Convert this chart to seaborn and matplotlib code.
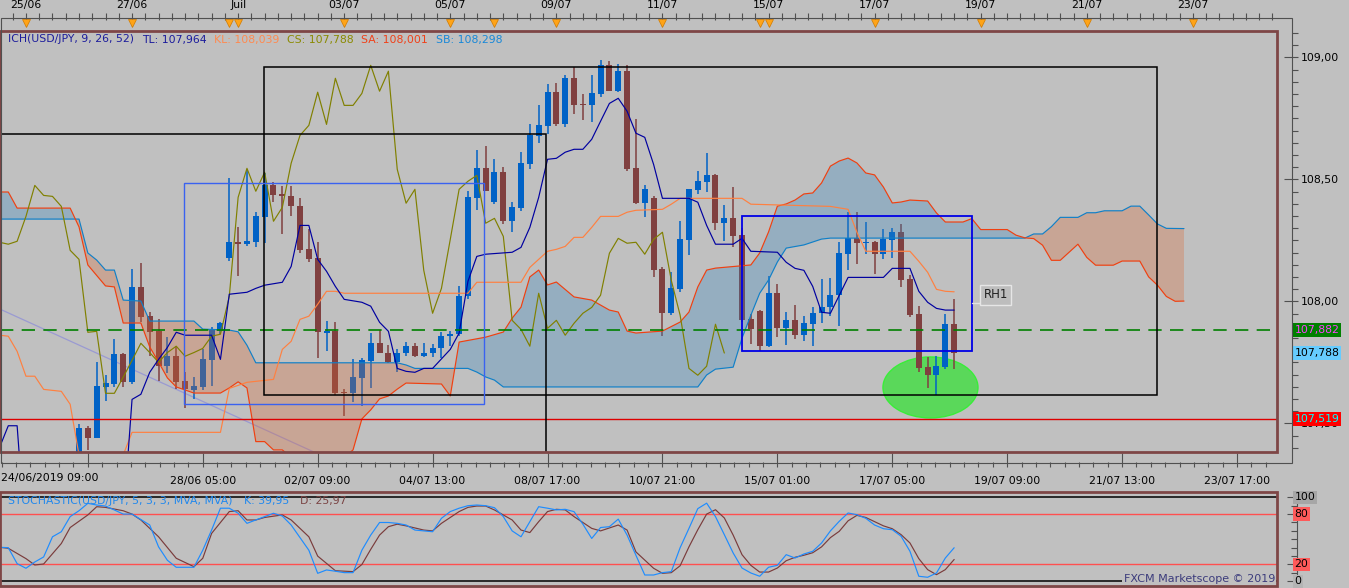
import numpy as np
import matplotlib
matplotlib.use("Agg")
import matplotlib.pyplot as plt
import matplotlib.transforms as mtrans
from matplotlib.patches import Rectangle, Ellipse
from matplotlib.ticker import MultipleLocator
import seaborn as sns

# ---------------- candles (bar index 0..99, 4h bars) ----------------
OPEN = [107.34,107.48,107.44,107.648,107.66,107.783,107.668,108.057,107.939,107.877,
        107.734,107.775,107.672,107.635,107.648,107.758,107.877,108.176,108.242,108.234,
        108.242,108.344,108.475,108.439,108.43,108.389,108.213,108.176,107.869,107.877,
        107.627,107.623,107.684,107.754,107.828,107.79,107.75,107.79,107.816,107.775,
        107.79,107.807,107.857,107.865,108.02,108.422,108.545,108.406,108.529,108.328,
        108.381,108.561,108.676,108.717,108.857,108.725,108.914,108.807,108.803,108.848,
        108.967,108.861,108.943,108.545,108.402,108.422,108.131,107.951,108.049,108.25,
        108.455,108.488,108.516,108.32,108.34,108.27,107.926,107.959,107.816,108.033,
        107.889,107.922,107.861,107.906,107.951,107.975,108.025,108.193,108.258,108.238,
        108.242,108.193,108.25,108.283,108.09,107.947,107.73,107.697,107.73,107.906]
HIGH = [107.496,107.49,107.75,107.697,107.844,107.79,108.131,108.156,107.955,107.926,
        107.852,107.816,107.709,107.689,107.803,107.893,107.914,108.504,108.303,108.541,
        108.365,108.525,108.488,108.471,108.471,108.422,108.295,108.242,107.918,107.914,
        107.639,107.762,107.766,107.869,107.881,107.82,107.803,107.832,107.828,107.828,
        107.824,107.873,107.877,108.061,108.451,108.619,108.635,108.582,108.549,108.406,
        108.611,108.725,108.803,108.889,108.893,108.926,108.959,108.848,108.926,108.988,
        108.984,108.971,108.967,108.746,108.475,108.43,108.139,108.119,108.328,108.459,
        108.533,108.607,108.52,108.393,108.467,108.299,107.947,107.963,108.102,108.07,
        107.955,107.984,107.939,107.975,108.09,108.094,108.242,108.365,108.365,108.324,
        108.246,108.295,108.299,108.316,108.107,107.98,107.77,107.775,107.947,108.008]
LOW = [107.31,107.39,107.44,107.59,107.648,107.648,107.66,107.914,107.775,107.672,
       107.705,107.639,107.561,107.598,107.635,107.652,107.865,108.164,108.102,108.225,
       108.221,108.238,108.406,108.275,108.348,108.197,108.16,107.766,107.795,107.615,
       107.529,107.586,107.57,107.643,107.787,107.746,107.709,107.775,107.77,107.77,
       107.77,107.766,107.816,107.857,108.01,108.373,108.451,108.398,108.316,108.283,
       108.369,108.541,108.648,108.684,108.717,108.713,108.766,108.742,108.734,108.836,
       108.861,108.857,108.533,108.398,108.344,108.098,107.857,107.943,108.037,108.189,
       108.439,108.447,108.291,108.246,108.221,107.914,107.824,107.795,107.811,107.852,
       107.82,107.844,107.836,107.816,107.91,107.939,107.898,108.127,108.152,108.193,
       108.111,108.172,108.176,108.057,107.934,107.709,107.643,107.615,107.721,107.721]
CLOSE = [107.48,107.44,107.652,107.664,107.783,107.668,108.057,107.934,107.873,107.734,
         107.775,107.668,107.639,107.652,107.762,107.881,107.91,108.242,108.234,108.246,
         108.348,108.475,108.434,108.43,108.389,108.209,108.172,107.873,107.877,107.623,
         107.623,107.689,107.758,107.828,107.79,107.75,107.79,107.816,107.775,107.79,
         107.807,107.857,107.865,108.02,108.426,108.545,108.451,108.529,108.328,108.385,
         108.566,108.68,108.721,108.857,108.725,108.914,108.803,108.803,108.852,108.967,
         108.861,108.943,108.541,108.402,108.459,108.127,107.951,108.053,108.254,108.459,
         108.492,108.516,108.32,108.34,108.266,107.922,107.885,107.816,108.033,107.889,
         107.922,107.861,107.91,107.951,107.975,108.025,108.197,108.258,108.238,108.242,
         108.193,108.254,108.283,108.086,107.943,107.725,107.697,107.734,107.906,107.788]
CHIKOU_SHIFT = 26

# ---------------- Ichimoku lines (bar index, price) ----------------
TL_IDX = [-9,-8,-7,-6,5,6,7,8,9,10,11,12,15,16,17,18,19,20,21,23,24,25,26,27,28,29,30,
          32,33,34,35,36,37,38,39,40,42,43,44,45,46,49,50,51,52,53,54,55,56,57,58,59,60,
          61,62,63,64,65,66,69,70,71,72,74,75,76,79,80,81,82,83,84,85,87,91,92,94,95,96,
          97,98,99]
TL_VAL = [107.40,107.49,107.49,107.0,107.10,107.598,107.619,107.709,107.762,107.811,107.873,
          107.861,107.861,107.762,108.029,108.033,108.037,108.053,108.066,108.078,108.143,
          108.311,108.311,108.172,108.123,108.061,108.008,107.996,107.98,107.914,107.877,
          107.725,107.713,107.709,107.725,107.725,107.803,107.87,108.082,108.184,108.193,
          108.201,108.221,108.303,108.426,108.582,108.586,108.611,108.623,108.623,108.664,
          108.738,108.811,108.832,108.779,108.689,108.672,108.561,108.422,108.422,108.406,
          108.311,108.234,108.234,108.258,108.205,108.201,108.16,108.135,108.127,108.061,
          107.955,107.951,108.098,108.098,108.135,108.135,108.041,107.996,107.971,107.964,
          107.964]
KL_IDX = [-9,-8,-7,-6,-5,-4,-2,-1,0,5,6,16,17,19,21,22,23,24,25,26,27,28,29,30,44,45,50,
          51,52,53,54,55,56,57,58,59,61,62,63,66,67,68,75,76,85,87,88,89,94,95,96,97,98,99]
KL_VAL = [107.861,107.857,107.795,107.693,107.693,107.639,107.631,107.578,107.37,107.37,
          107.463,107.463,107.643,107.668,107.676,107.68,107.803,107.836,107.926,107.939,
          107.988,108.041,108.041,108.033,108.033,108.078,108.078,108.139,108.172,108.205,
          108.213,108.225,108.262,108.262,108.303,108.348,108.348,108.365,108.373,108.377,
          108.398,108.422,108.422,108.398,108.389,108.377,108.283,108.205,108.205,108.164,
          108.119,108.049,108.041,108.039]
SA_IDX = [-9,-8,-7,-1,0,1,3,4,5,7,8,9,10,11,13,16,17,18,19,20,21,22,23,24,30,31,32,33,34,
          35,36,37,41,42,43,46,48,49,50,51,52,53,54,56,58,60,61,62,63,66,68,69,70,71,72,76,
          77,78,79,80,81,82,83,84,85,86,87,88,89,90,91,92,93,94,96,97,98,100,101,102,105,
          106,107,108,109,110,111,113,114,115,117,118,120,121,122,123,124,125]
SA_VAL = [108.448,108.448,108.382,108.382,108.305,108.149,108.063,108.059,107.911,107.911,
          107.813,107.751,107.686,107.649,107.624,107.624,107.645,107.670,107.645,107.425,
          107.425,107.391,107.391,107.36,107.36,107.391,107.518,107.555,107.60,107.612,
          107.64,107.665,107.661,107.612,107.833,107.853,107.874,107.931,107.976,108.10,
          108.128,108.067,108.079,108.018,108.005,107.964,107.956,107.878,107.870,107.878,
          107.915,107.956,108.059,108.128,108.136,108.149,108.198,108.284,108.39,108.399,
          108.415,108.44,108.444,108.485,108.554,108.575,108.587,108.567,108.526,108.518,
          108.468,108.403,108.407,108.415,108.411,108.362,108.325,108.325,108.339,108.294,
          108.294,108.271,108.26,108.257,108.23,108.168,108.168,108.234,108.18,108.148,
          108.148,108.165,108.165,108.10,108.066,108.02,108.0,108.001]
SB_IDX = [-9,0,1,2,3,4,5,7,8,13,14,17,18,19,20,36,37,38,44,45,46,47,48,70,71,72,74,75,76,
          77,78,79,80,82,83,84,85,107,108,109,110,111,113,114,115,116,118,119,120,121,122,
          123,125]
SB_VAL = [108.337,108.337,108.198,108.169,108.128,108.128,108.005,108.001,107.919,107.919,
          107.886,107.882,107.875,107.82,107.748,107.748,107.739,107.725,107.725,107.71,
          107.69,107.677,107.649,107.649,107.698,107.722,107.73,107.849,107.943,108.033,
          108.087,108.161,108.218,108.231,108.243,108.255,108.259,108.259,108.276,108.276,
          108.306,108.344,108.344,108.363,108.363,108.371,108.371,108.39,108.39,108.354,
          108.317,108.299,108.298]

# ---------------- Stochastic (bar index, value) ----------------
STOCH_K = [(-9,40.5),(-8,40),(-7,21),(-6,15.5),(-5,23),(-4,29),(-3,53),(-2,59),(-1,77),(0,84),
           (1,92.8),(2,90.8),(3,89.6),(4,84.9),(5,80),(6,80),(8,67),(9,41),(10,25),(11,16.7),
           (13,16.7),(14,37),(15,61),(16,87),(17,87),(18,81),(19,69),(20,73),(21,77),(22,81),
           (23,77.7),(24,67),(25,52),(26,37),(27,9.5),(28,13.5),(29,12),(30,10.3),(31,10.3),
           (32,37),(33,55),(34,70),(35,70),(36,69),(37,67),(38,61),(39,60),(40,59),(41,75),
           (42,83),(43,87),(44,90),(45,90.8),(46,90),(47,87.6),(48,77),(49,60),(50,53),(51,71),
           (52,88.8),(53,87),(54,85),(55,85.7),(56,82.9),(57,68),(58,51),(59,64),(60,65),
           (61,74),(62,55),(63,31),(64,7.5),(65,7.5),(66,10.3),(67,11.5),(68,40),(69,63),
           (70,86.5),(71,93),(72,77),(73,55.5),(74,33.7),(75,15.8),(76,9.9),(77,6),(78,16.7),
           (79,19),(80,31.7),(81,27.7),(82,32.5),(83,35.7),(84,45.6),(85,60),(86,71.4),
           (87,81.3),(88,79.3),(89,75),(90,67),(91,62.6),(92,61.4),(93,53.6),(94,35.7),(95,6),
           (96,4.8),(97,9.9),(98,27.7),(99,39.95)]
STOCH_D = [(-9,40.5),(-8,39.3),(-6,27),(-5,19.4),(-4,20.6),(-2,45),(-1,64),(1,79),(2,88.8),
           (3,88),(5,84),(6,80),(7,73),(9,53),(11,27.4),(13,17.4),(14,27.4),(15,57),(17,83),
           (18,84),(19,73),(20,73),(21,76),(23,79),(24,73),(26,53),(27,30),(29,12.6),(31,11.5),
           (32,20),(33,38),(34,55),(35,65),(36,68),(37,66),(39,61),(40,60),(41,69),(43,83),
           (44,88),(45,89.6),(46,89.6),(47,84.9),(49,73),(50,61),(51,58),(52,71),(53,83),
           (54,85.7),(55,85),(56,77),(58,63),(59,60),(61,67),(62,61),(63,35),(65,15.5),(66,9.5),
           (67,10.3),(68,18.5),(69,41),(70,61.4),(71,80),(72,85.2),(73,75.4),(74,55),(75,31.7),
           (76,19),(77,11),(78,11),(79,15.8),(80,24.5),(81,28.6),(82,31),(83,34),(84,41),
           (85,52),(86,59.5),(87,72),(88,78.5),(89,76),(90,71),(91,66),(92,62.6),(93,55.5),
           (94,45.6),(95,27),(96,13.9),(97,7.9),(98,13.9),(99,25.97)]

# ---------------- axis labels ----------------
TOP_TICKS = [-6, 6, 18, 30, 42, 54, 66, 78, 90, 102, 114, 126]
TOP_LABELS = ["25/06", "27/06", "Juil", "03/07", "05/07", "09/07", "11/07",
              "15/07", "17/07", "19/07", "21/07", "23/07"]
WEEK_MARKS = [17, 47, 77]
BOTTOM_TICKS = [1, 14, 27, 40, 53, 66, 79, 92, 105, 118, 131]
BOTTOM_LABELS = ["", "28/06 05:00", "02/07 09:00", "04/07 13:00", "08/07 17:00",
                 "10/07 21:00", "15/07 01:00", "17/07 05:00", "19/07 09:00",
                 "21/07 13:00", "23/07 17:00"]
FIRST_LABEL = "24/06/2019 09:00"
PRICE_TICKS = [107.5, 108.0, 108.5, 109.0]
PRICE_LABELS = ["107,50", "108,00", "108,50", "109,00"]
PRICE_TAGS = [(107.882, "107,882", "#008000", "#ff40ff"),
              (107.788, "107,788", "#66ccff", "#000000"),
              (107.519, "107,519", "#ff0000", "#00ffff")]
STOCH_TAGS = [(100, "100", "#a6a6a6"), (80, "80", "#ff5a5a"),
              (20, "20", "#ff5a5a"), (0, "0", "#b4b4b4")]
HEADER = [("ICH(USD/JPY, 9, 26, 52)", "#1c1c9c"), ("TL: 107,964", "#1c1c9c"),
          ("KL: 108,039", "#ff8a50"), ("CS: 107,788", "#8a8a00"),
          ("SA: 108,001", "#f04018"), ("SB: 108,298", "#1888d8")]
STOCH_HEADER = [("STOCHASTIC(USD/JPY, 5, 3, 3, MVA, MVA)", "#2088ee"),
                ("K: 39,95", "#2088ee"), ("D: 25,97", "#7a4444")]
LEVEL_GREEN = 107.882
LEVEL_RED = 107.519

# ---------------- drawing annotations ----------------
BOXES = [((-20, 52.83, 106.5, 108.685), "#000000", 1.1),
         ((20.96, 121.9, 107.616, 108.959), "#000000", 1.1),
         ((11.9, 45.85, 107.578, 108.484), "#3a62f0", 1.0),
         ((75.03, 100.98, 107.796, 108.348), "#0000e6", 1.3)]
ELLIPSE = (96.32, 107.647, 10.75, 0.25)
TREND_X = [-9, 40]
TREND_Y = [107.969, 107.161]
RH1 = (103.7, 108.026)
RH1_LINK = ([100.98, 102.0], [107.993, 107.993])

# ---------------- style ----------------
BG = "#c0c0c0"
UPC = "#0062c6"
DNC = "#804040"
BORDER = "#7e4646"
AXC = "#505050"
FS = 7.8
LW = 0.85

sns.set_theme(style="white", rc={"axes.facecolor": BG, "figure.facecolor": BG})
plt.rcParams["font.family"] = ["DejaVu Sans"]

W, H = 1349, 588
fig = plt.figure(figsize=(W / 100, H / 100), dpi=100)
fig.patch.set_facecolor(BG)


def fx(p):
    return p / W


def fy(p):
    return 1 - p / H


XL = (-8.937, 135.52)
YL = (107.3824, 109.1078)

ax = fig.add_axes([0, fy(452), fx(1277), (452 - 31) / H])
ax.set_facecolor(BG)


def sline(a, x, y, color, lw=LW, z=6):
    sns.lineplot(x=np.asarray(x, float), y=np.asarray(y, float), ax=a, color=color,
                 lw=lw, estimator=None, sort=False, zorder=z, legend=False)


# candles
idx = np.arange(len(OPEN))
o, h, l, c = (np.array(v, float) for v in (OPEN, HIGH, LOW, CLOSE))
col = np.where(c >= o, UPC, DNC)
ax.vlines(idx, l, h, colors=col, lw=1.1, zorder=3)
ax.bar(idx, np.maximum(np.abs(c - o), 0.006), bottom=np.minimum(o, c), width=0.68,
       color=col, lw=0, zorder=4)

# cloud
grid = np.union1d(np.array(SA_IDX, float), np.array(SB_IDX, float))
sa_g = np.interp(grid, SA_IDX, SA_VAL)
sb_g = np.interp(grid, SB_IDX, SB_VAL)
ax.fill_between(grid, sa_g, sb_g, where=sa_g >= sb_g, interpolate=True,
                color=(52 / 255, 135 / 255, 192 / 255), alpha=0.3, lw=0, zorder=5)
ax.fill_between(grid, sa_g, sb_g, where=sa_g < sb_g, interpolate=True,
                color=(219 / 255, 105 / 255, 52 / 255), alpha=0.3, lw=0, zorder=5)

# ichimoku lines
sline(ax, SB_IDX, SB_VAL, "#1080c8")
sline(ax, SA_IDX, SA_VAL, "#f04010")
sline(ax, idx - CHIKOU_SHIFT, CLOSE, "#808000")
sline(ax, KL_IDX, KL_VAL, "#ff8040")
sline(ax, TL_IDX, TL_VAL, "#0000a0")

# levels and drawings
ax.axhline(LEVEL_GREEN, color="#008000", lw=1.2, ls=(0, (8, 5)), zorder=7)
ax.axhline(LEVEL_RED, color="#dd0000", lw=1.0, zorder=7)
ax.plot(TREND_X, TREND_Y, color="#9a9ad2", lw=0.9, zorder=2.6)
for (x0, x1, y0, y1), ec, lw in BOXES:
    ax.add_patch(Rectangle((x0, y0), x1 - x0, y1 - y0, fill=False, ec=ec, lw=lw, zorder=8))
ex, ey, ew, eh = ELLIPSE
ax.add_patch(Ellipse((ex, ey), ew, eh, fc="#5ad85a", ec="#38ee38", lw=1.0, zorder=2.5))
ax.plot(*RH1_LINK, color="#e2e2e2", lw=1.0, zorder=11)
ax.text(RH1[0], RH1[1], "RH1", ha="center", va="center", fontsize=8.5, color="#202020",
        bbox=dict(boxstyle="square,pad=0.28", fc="#bdbdbd", ec="#e6e6e6", lw=1.0), zorder=12)

# axes cosmetics (main)
for s in ax.spines.values():
    s.set_color("none")
ax.spines["bottom"].set_position(("outward", 11))
ax.spines["right"].set_position(("outward", 15))
ax.yaxis.tick_right()
ax.set_yticks(PRICE_TICKS)
ax.set_yticklabels(PRICE_LABELS)
ax.yaxis.set_minor_locator(MultipleLocator(0.05))
ax.tick_params(axis="y", which="major", direction="in", length=10, width=0.8, color=AXC,
               pad=2.2, labelsize=FS, labelcolor="black", right=True, left=False)
ax.tick_params(axis="y", which="minor", direction="in", length=4, width=0.8, color=AXC,
               right=True, left=False)
ax.xaxis.tick_bottom()
ax.set_xticks(BOTTOM_TICKS)
ax.set_xticklabels(BOTTOM_LABELS)
ax.xaxis.set_minor_locator(MultipleLocator(13 / 8, offset=1))
ax.tick_params(axis="x", which="major", direction="in", length=10, width=0.8, color=AXC,
               pad=6.5, labelsize=FS, labelcolor="black", bottom=True, top=False)
ax.tick_params(axis="x", which="minor", direction="in", length=3.8, width=0.8, color=AXC,
               bottom=True, top=False)
ax.set_xlabel("")
ax.set_ylabel("")
ax.grid(False)
ax.add_patch(Rectangle((0, 0), 1, 1, transform=ax.transAxes, fill=False, ec=BORDER,
                       lw=2.0, clip_on=False, zorder=40))

tr = mtrans.blended_transform_factory(ax.transAxes, ax.transData)
for val, txt, fc, tc in PRICE_TAGS:
    ax.text(1294.5 / 1277, val, txt, transform=tr, ha="left", va="center", fontsize=FS,
            color=tc, bbox=dict(boxstyle="square,pad=0.18", fc=fc, ec="none"),
            clip_on=False, zorder=45)


def chain(a, x, y, parts, gap):
    prev = a.text(x, y, parts[0][0], color=parts[0][1], transform=a.transAxes,
                  fontsize=FS, va="center", ha="left", zorder=30)
    for s, cc in parts[1:]:
        prev = a.annotate(s, xy=(1, 0.5), xycoords=prev, xytext=(gap, 0),
                          textcoords="offset points", va="center", ha="left",
                          color=cc, fontsize=FS, zorder=30)


chain(ax, 8 / 1277, (452 - 39.5) / 421, HEADER, 5.5)

# top date axis
axt = ax.twiny()
for s in axt.spines.values():
    s.set_color("none")
axt.spines["top"].set_position(("outward", 12.7))
axt.set_xticks(TOP_TICKS)
axt.set_xticklabels(TOP_LABELS)
axt.xaxis.set_minor_locator(MultipleLocator(1.5))
axt.tick_params(axis="x", which="major", direction="in", length=9.1, width=0.8, color=AXC,
                pad=2.5, labelsize=FS, labelcolor="black", top=True, bottom=False)
axt.tick_params(axis="x", which="minor", direction="in", length=4.8, width=0.8, color=AXC,
                top=True, bottom=False)
ttr = mtrans.blended_transform_factory(axt.transData, axt.transAxes)
tri = sorted(TOP_TICKS + WEEK_MARKS)
axt.plot(tri, [1.0183] * len(tri), ls="none", marker="v", ms=6, mfc="#ffa418",
         mec="#d07a00", mew=0.5, transform=ttr, clip_on=False, zorder=10,
         scalex=False, scaley=False)

fig.text(fx(1), fy(478), FIRST_LABEL, ha="left", va="center", fontsize=FS, color="black")
fig.add_artist(Rectangle((fx(0.5), fy(463)), fx(1291.5), (463 - 18.3) / H,
                         transform=fig.transFigure, fill=False, ec=AXC, lw=0.8, zorder=50))

# ---------------- stochastic panel ----------------
axs = fig.add_axes([0, fy(585.7), fx(1277), (585.7 - 492) / H])
axs.set_facecolor(BG)
axs.axhline(100, color="black", lw=1.1, zorder=2)
axs.axhline(0, color="black", lw=1.1, zorder=2)
axs.axhline(80, color="#ff5050", lw=1.0, zorder=2)
axs.axhline(20, color="#ff5050", lw=1.0, zorder=2)
kx, kv = zip(*STOCH_K)
dx, dv = zip(*STOCH_D)
sline(axs, dx, dv, "#7a3c3c", z=5)
sline(axs, kx, kv, "#1e8cff", z=6)
for s in axs.spines.values():
    s.set_color("none")
axs.spines["right"].set_color(AXC)
axs.spines["right"].set_linewidth(0.8)
axs.spines["right"].set_position(("outward", 14.3))
axs.yaxis.tick_right()
axs.set_yticks([0, 20, 80, 100])
axs.set_yticklabels([])
axs.yaxis.set_minor_locator(MultipleLocator(10))
axs.tick_params(axis="y", which="major", direction="in", length=7, width=0.8, color=AXC,
                right=True, left=False)
axs.tick_params(axis="y", which="minor", direction="in", length=4, width=0.8, color=AXC,
                right=True, left=False)
axs.set_xticks([])
axs.set_xlabel("")
axs.set_ylabel("")
axs.grid(False)
axs.add_patch(Rectangle((0, 0), 1, 1, transform=axs.transAxes, fill=False, ec=BORDER,
                        lw=2.0, clip_on=False, zorder=40))
str_ = mtrans.blended_transform_factory(axs.transAxes, axs.transData)
for val, txt, fc in STOCH_TAGS:
    axs.text(1294.5 / 1277, val, txt, transform=str_, ha="left", va="center", fontsize=FS,
             color="black", bbox=dict(boxstyle="square,pad=0.15", fc=fc, ec="none"),
             clip_on=False, zorder=45)
axs.text(1275 / 1277, 3.3, "FXCM Marketscope \u00a9 2019", transform=str_, ha="right",
         va="center", fontsize=8, color="#3c3c7c",
         bbox=dict(boxstyle="square,pad=0.12", fc=BG, ec="none"), zorder=30)
chain(axs, 8 / 1277, (585.7 - 501) / 93.7, STOCH_HEADER, 8)

# limits
ax.set_xlim(XL)
ax.set_ylim(YL)
axt.set_xlim(XL)
axs.set_xlim(XL)
axs.set_ylim(-5.24, 106.3)

fig.savefig("out.png", dpi=100, facecolor=BG)
